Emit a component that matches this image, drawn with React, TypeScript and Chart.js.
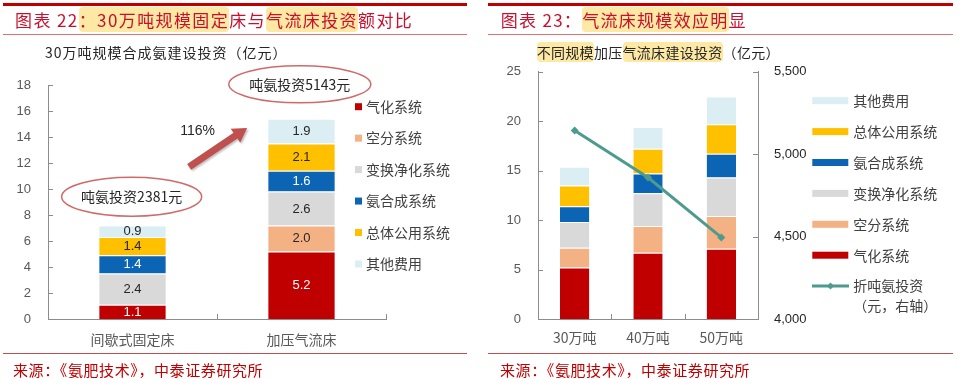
import React, { useEffect, useRef } from 'react';
import { Chart, registerables } from 'chart.js';

Chart.register(...registerables);

const CJK = '"Noto Sans CJK SC", "Noto Sans", sans-serif';
const NUM = '"Liberation Sans", Arial, sans-serif';
const AXIS = '#8c8c8c';

// ---------- shared series ----------
const seriesNames = ['气化系统', '空分系统', '变换净化系统', '氨合成系统', '总体公用系统', '其他费用'];
const seriesColors = ['#c00000', '#f4b183', '#d9d9d9', '#0b64b4', '#ffc000', '#daeef3'];
const labelColors = ['#ffffff', '#262626', '#262626', '#ffffff', '#262626', '#262626'];

// ---------- left chart (图表22) ----------
const leftCategories = ['间歇式固定床', '加压气流床'];
const leftGasification = [1.1, 5.2];
const leftAirSeparation = [null, 2.0];
const leftShiftPurification = [2.4, 2.6];
const leftAmmoniaSynthesis = [1.4, 1.6];
const leftUtilities = [1.4, 2.1];
const leftOther = [0.9, 1.9];
const leftPerTon = [2381, 5143];
const leftYMin = 0;
const leftYMax = 18;
const leftYStep = 2;

// ---------- right chart (图表23) ----------
const rightCategories = ['30万吨', '40万吨', '50万吨'];
const rightGasification = [5.2, 6.7, 7.1];
const rightAirSeparation = [2.0, 2.7, 3.3];
const rightShiftPurification = [2.6, 3.3, 3.9];
const rightAmmoniaSynthesis = [1.6, 2.0, 2.4];
const rightUtilities = [2.1, 2.5, 3.0];
const rightOther = [1.9, 2.2, 2.8];
const rightPerTon = [5143, 4858, 4495];
const rightLineName = '折吨氨投资';
const rightLineNameSub = '（元，右轴）';
const rightYMin = 0;
const rightYMax = 25;
const rightYStep = 5;
const rightY1Min = 4000;
const rightY1Max = 5500;
const rightY1Step = 500;
const LINE_COLOR = '#4e9a8f';

function insideTicks(chart: any) {
  const { ctx, chartArea, scales } = chart;
  const { left, right, bottom } = chartArea;
  ctx.save();
  ctx.strokeStyle = AXIS;
  ctx.lineWidth = 1;
  ctx.beginPath();
  const y = scales.y;
  y.ticks.forEach((_: any, i: number) => {
    const p = Math.round(y.getPixelForTick(i)) + 0.5;
    ctx.moveTo(left, p);
    ctx.lineTo(left + 5, p);
  });
  if (scales.y1) {
    const y1 = scales.y1;
    y1.ticks.forEach((_: any, i: number) => {
      const p = Math.round(y1.getPixelForTick(i)) + 0.5;
      ctx.moveTo(right, p);
      ctx.lineTo(right - 5, p);
    });
  }
  const x = scales.x;
  const n = x.ticks.length;
  for (let i = 0; i < n; i++) {
    const bx = i < n - 1 ? (x.getPixelForTick(i) + x.getPixelForTick(i + 1)) / 2 : right;
    const px = Math.round(bx) + 0.5;
    ctx.moveTo(px, bottom);
    ctx.lineTo(px, bottom - 5);
  }
  ctx.stroke();
  ctx.restore();
}

function drawArrow(ctx: CanvasRenderingContext2D, x0: number, y0: number, x1: number, y1: number, shaftW: number, headW: number, headL: number) {
  const dx = x1 - x0, dy = y1 - y0;
  const len = Math.hypot(dx, dy);
  const ux = dx / len, uy = dy / len;
  const nx = -uy, ny = ux;
  const bx = x1 - ux * headL, by = y1 - uy * headL;
  ctx.beginPath();
  ctx.moveTo(x0 + nx * shaftW / 2, y0 + ny * shaftW / 2);
  ctx.lineTo(bx + nx * shaftW / 2, by + ny * shaftW / 2);
  ctx.lineTo(bx + nx * headW / 2, by + ny * headW / 2);
  ctx.lineTo(x1, y1);
  ctx.lineTo(bx - nx * headW / 2, by - ny * headW / 2);
  ctx.lineTo(bx - nx * shaftW / 2, by - ny * shaftW / 2);
  ctx.lineTo(x0 - nx * shaftW / 2, y0 - ny * shaftW / 2);
  ctx.closePath();
  ctx.fill();
}

function drawEllipseLabel(ctx: CanvasRenderingContext2D, cx: number, cy: number, rx: number, ry: number, text: string) {
  ctx.save();
  ctx.strokeStyle = '#d06a6a';
  ctx.lineWidth = 1.5;
  ctx.beginPath();
  ctx.ellipse(cx, cy, rx, ry, 0, 0, Math.PI * 2);
  ctx.stroke();
  ctx.fillStyle = '#262626';
  ctx.font = `14px ${CJK}`;
  ctx.textAlign = 'center';
  ctx.textBaseline = 'middle';
  ctx.fillText(text, cx, cy);
  ctx.restore();
}

const leftDecor = {
  id: 'leftDecor',
  afterDatasetsDraw(chart: any) {
    const { ctx } = chart;
    ctx.save();
    ctx.font = `13px ${NUM}`;
    ctx.textAlign = 'center';
    ctx.textBaseline = 'middle';
    chart.data.datasets.forEach((ds: any, di: number) => {
      const meta = chart.getDatasetMeta(di);
      meta.data.forEach((el: any, i: number) => {
        const v = ds.data[i];
        if (v == null) return;
        const p = el.getProps(['x', 'y', 'base'], true);
        ctx.fillStyle = labelColors[di];
        ctx.fillText(Number(v).toFixed(1), p.x, (p.y + p.base) / 2 + 0.5);
      });
    });
    ctx.restore();
  },
  afterDraw(chart: any) {
    insideTicks(chart);
    const { ctx, scales } = chart;
    const x = scales.x, y = scales.y;
    const x0 = x.getPixelForValue(0), x1 = x.getPixelForValue(1);
    const xAt = (f: number) => x0 + (x1 - x0) * f;
    drawEllipseLabel(ctx, xAt(-0.005), y.getPixelForValue(9.4), 70, 19.5, `吨氨投资${leftPerTon[0]}元`);
    drawEllipseLabel(ctx, xAt(0.99), y.getPixelForValue(18.05), 71, 18.5, `吨氨投资${leftPerTon[1]}元`);
    // arrow
    ctx.save();
    ctx.fillStyle = '#c0504d';
    ctx.shadowColor = 'rgba(0,0,0,0.25)';
    ctx.shadowBlur = 2;
    ctx.shadowOffsetX = 1.5;
    ctx.shadowOffsetY = 1.5;
    drawArrow(ctx, xAt(0.335), y.getPixelForValue(11.7), xAt(0.678), y.getPixelForValue(14.7), 7, 17, 14);
    ctx.restore();
    // growth text
    const growth = Math.round((leftPerTon[1] / leftPerTon[0] - 1) * 100);
    ctx.save();
    ctx.fillStyle = '#262626';
    ctx.font = `14px ${NUM}`;
    ctx.textAlign = 'center';
    ctx.textBaseline = 'middle';
    ctx.fillText(`${growth}%`, xAt(0.385), y.getPixelForValue(14.46));
    ctx.restore();
    // legend
    ctx.save();
    ctx.font = `14px ${CJK}`;
    ctx.textAlign = 'left';
    ctx.textBaseline = 'middle';
    seriesNames.forEach((name, i) => {
      const cy = 106.7 + i * 31.45;
      ctx.fillStyle = seriesColors[i];
      ctx.fillRect(355, cy - 3.5, 7, 7);
      ctx.fillStyle = '#404040';
      ctx.fillText(name, 366, cy);
    });
    ctx.restore();
  },
};

const rightDecor = {
  id: 'rightDecor',
  afterDraw(chart: any) {
    insideTicks(chart);
    const { ctx } = chart;
    ctx.save();
    ctx.font = `14px ${CJK}`;
    ctx.textAlign = 'left';
    ctx.textBaseline = 'middle';
    const order = [5, 4, 3, 2, 1, 0];
    order.forEach((si, i) => {
      const cy = 100.7 + i * 30.9;
      ctx.fillStyle = seriesColors[si];
      ctx.fillRect(332.3, cy - 3.5, 36, 7);
      ctx.fillStyle = '#404040';
      ctx.fillText(seriesNames[si], 373.3, cy);
    });
    const ly = 100.7 + 6 * 30.9;
    ctx.strokeStyle = LINE_COLOR;
    ctx.lineWidth = 3;
    ctx.beginPath();
    ctx.moveTo(332, ly);
    ctx.lineTo(369, ly);
    ctx.stroke();
    ctx.fillStyle = LINE_COLOR;
    ctx.beginPath();
    ctx.moveTo(350.5, ly - 3.5);
    ctx.lineTo(354, ly);
    ctx.lineTo(350.5, ly + 3.5);
    ctx.lineTo(347, ly);
    ctx.closePath();
    ctx.fill();
    ctx.fillStyle = '#404040';
    ctx.fillText(rightLineName, 373.3, ly);
    ctx.fillText(rightLineNameSub, 373.3, ly + 19.5);
    ctx.restore();
  },
};

function barSet(label: string, data: any[], idx: number, pct: number) {
  return {
    type: 'bar',
    label,
    data,
    backgroundColor: seriesColors[idx],
    borderColor: '#ffffff',
    borderWidth: { top: 1, bottom: 0, left: 0, right: 0 },
    borderSkipped: false,
    barPercentage: pct,
    categoryPercentage: 1,
    yAxisID: 'y',
    order: 1,
  };
}

export default function App() {
  const leftRef = useRef<HTMLCanvasElement>(null);
  const rightRef = useRef<HTMLCanvasElement>(null);

  useEffect(() => {
    const leftSeries = [leftGasification, leftAirSeparation, leftShiftPurification, leftAmmoniaSynthesis, leftUtilities, leftOther];
    const rightSeries = [rightGasification, rightAirSeparation, rightShiftPurification, rightAmmoniaSynthesis, rightUtilities, rightOther];

    const left = new Chart(leftRef.current as HTMLCanvasElement, {
      type: 'bar',
      data: {
        labels: leftCategories,
        datasets: leftSeries.map((d, i) => barSet(seriesNames[i], d, i, 0.394)) as any,
      },
      options: {
        responsive: false,
        maintainAspectRatio: false,
        animation: false,
        layout: { padding: { top: 85, right: 94, bottom: 0, left: 0 } },
        plugins: { legend: { display: false }, tooltip: { enabled: false } },
        scales: {
          x: {
            stacked: true,
            grid: { display: false, drawTicks: false },
            border: { color: AXIS, width: 1 },
            ticks: { padding: 12, color: '#595959', font: { family: CJK, size: 14 } },
            afterFit: (s: any) => { s.height = 60; },
          },
          y: {
            stacked: true,
            min: leftYMin,
            max: leftYMax,
            grid: { display: false, drawTicks: false },
            border: { color: AXIS, width: 1 },
            ticks: { stepSize: leftYStep, padding: 17, color: '#595959', font: { family: NUM, size: 13 } },
            afterFit: (s: any) => { s.width = 48; },
          },
        },
      } as any,
      plugins: [leftDecor],
    });

    const right = new Chart(rightRef.current as HTMLCanvasElement, {
      type: 'bar',
      data: {
        labels: rightCategories,
        datasets: [
          ...rightSeries.map((d, i) => barSet(seriesNames[i], d, i, 0.4)),
          {
            type: 'line',
            label: rightLineName,
            data: rightPerTon,
            yAxisID: 'y1',
            borderColor: LINE_COLOR,
            backgroundColor: LINE_COLOR,
            borderWidth: 3,
            pointStyle: 'rectRot',
            pointRadius: 4,
            pointBackgroundColor: LINE_COLOR,
            pointBorderWidth: 0,
            order: 0,
          },
        ] as any,
      },
      options: {
        responsive: false,
        maintainAspectRatio: false,
        animation: false,
        layout: { padding: { top: 71.7, right: 142, bottom: 0, left: 0 } },
        plugins: { legend: { display: false }, tooltip: { enabled: false } },
        scales: {
          x: {
            stacked: true,
            grid: { display: false, drawTicks: false },
            border: { color: AXIS, width: 1 },
            ticks: { padding: 10.5, color: '#595959', font: { family: CJK, size: 14 } },
            afterFit: (s: any) => { s.height = 60; },
          },
          y: {
            stacked: true,
            position: 'left',
            min: rightYMin,
            max: rightYMax,
            grid: { display: false, drawTicks: false },
            border: { color: AXIS, width: 1 },
            ticks: { stepSize: rightYStep, padding: 17, color: '#595959', font: { family: NUM, size: 13 } },
            afterFit: (s: any) => { s.width = 58; },
          },
          y1: {
            position: 'right',
            min: rightY1Min,
            max: rightY1Max,
            grid: { display: false, drawTicks: false },
            border: { color: AXIS, width: 1 },
            ticks: {
              stepSize: rightY1Step,
              padding: 16,
              color: '#262626',
              font: { family: NUM, size: 13 },
              callback: (v: any) => Number(v).toLocaleString('en-US'),
            },
            afterFit: (s: any) => { s.width = 60; },
          },
        },
      } as any,
      plugins: [rightDecor],
    });

    return () => {
      left.destroy();
      right.destroy();
    };
  }, []);

  const hl: React.CSSProperties = { background: '#fde9a3', borderRadius: 4 };
  const abs = (s: React.CSSProperties): React.CSSProperties => ({ position: 'absolute', whiteSpace: 'nowrap', ...s });

  return (
    <div style={{ position: 'absolute', left: 0, top: 0, width: 960, height: 379, background: '#fff', overflow: 'hidden', fontFamily: CJK }}>
      <canvas ref={leftRef} width={480} height={379} style={{ position: 'absolute', left: 0, top: 0 }} />
      <canvas ref={rightRef} width={480} height={379} style={{ position: 'absolute', left: 480, top: 0 }} />

      {/* header left */}
      <div style={abs({ left: 3, top: 2.5, width: 464, height: 3, background: '#c00000' })} />
      <div style={abs({ left: 15, top: 8, fontSize: 17, lineHeight: '24px', letterSpacing: 1.4, color: '#c8102e' })}>
        图表 22<span style={hl}>：30万吨规模固定</span>床与<span style={hl}>气流床投资</span>额对比
      </div>
      <div style={abs({ left: 3, top: 34, width: 464, height: 1, background: '#e07070' })} />
      <div style={abs({ left: 45, top: 42, fontSize: 14, lineHeight: '20px', letterSpacing: 1, color: '#262626' })}>
        30万吨规模合成氨建设投资（亿元）
      </div>

      {/* header right */}
      <div style={abs({ left: 488, top: 2.5, width: 465, height: 3, background: '#c00000' })} />
      <div style={abs({ left: 500.7, top: 8, fontSize: 17, lineHeight: '24px', letterSpacing: 1.3, color: '#c8102e' })}>
        图表 23：<span style={hl}>气流床规模效应明</span>显
      </div>
      <div style={abs({ left: 488, top: 34, width: 465, height: 1, background: '#e07070' })} />
      <div style={abs({ left: 536.7, top: 42, fontSize: 14, lineHeight: '20px', letterSpacing: 0.3, color: '#262626' })}>
        <span style={hl}>不同规模</span>加压<span style={hl}>气流床建设投资</span>（亿元）
      </div>

      {/* footers */}
      <div style={abs({ left: 3, top: 352.5, width: 464, height: 1, background: '#c0504d' })} />
      <div style={abs({ left: 13, top: 360, fontSize: 15, lineHeight: '20px', letterSpacing: 0.6, color: '#c00000' })}>
        来源：《氨肥技术》，中泰证券研究所
      </div>
      <div style={abs({ left: 488, top: 352.5, width: 465, height: 1, background: '#c0504d' })} />
      <div style={abs({ left: 500, top: 360, fontSize: 15, lineHeight: '20px', letterSpacing: 0.6, color: '#c00000' })}>
        来源：《氨肥技术》，中泰证券研究所
      </div>
    </div>
  );
}
